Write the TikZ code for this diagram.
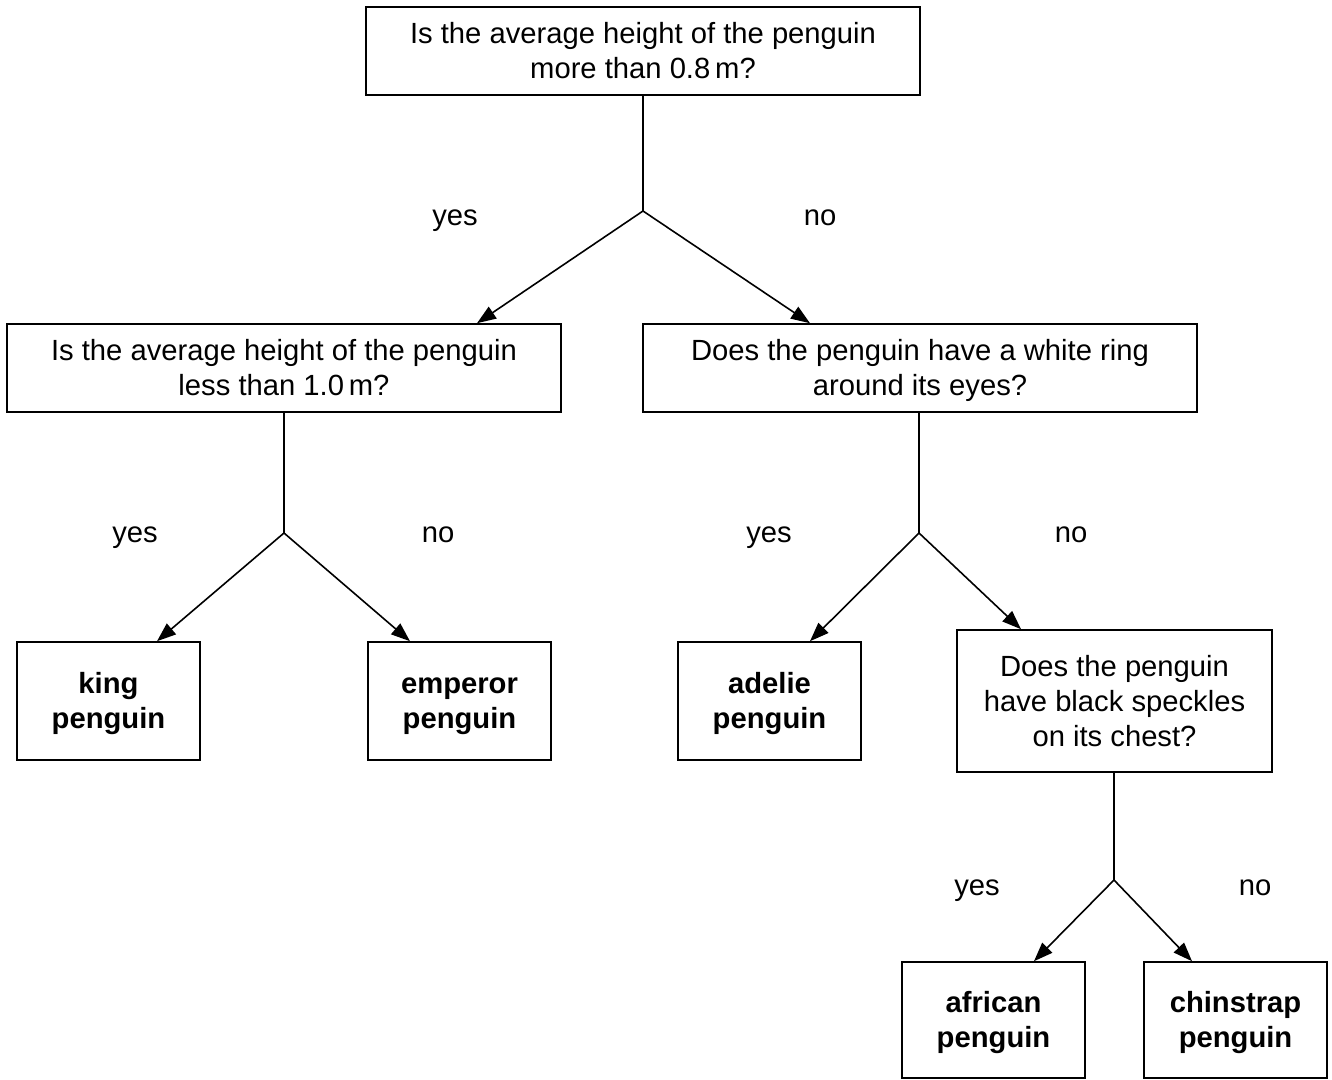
\documentclass[tikz,border=0pt]{standalone}
\usepackage{fontspec}
\setmainfont{Liberation Sans}
\usetikzlibrary{arrows.meta}
\newcommand\lnstrut{\rule[-7.5pt]{0pt}{35pt}}
\begin{document}
\begin{tikzpicture}[x=1pt,y=-1pt,
  box/.style={draw, line width=1.6pt, inner sep=0pt, align=center,
    font=\fontsize{29.2}{35}\selectfont},
  qbox/.style={box, minimum width=554pt, minimum height=88pt},
  leaf/.style={box, minimum width=183pt, minimum height=118pt,
    font=\fontsize{29.2}{35}\selectfont\bfseries},
  conn/.style={line width=1.6pt},
  arr/.style={line width=1.6pt, -{Triangle[length=19pt,width=14pt]}},
  lbl/.style={font=\fontsize{29.2}{35}\selectfont, inner sep=0pt, anchor=base}]
\useasboundingbox (0,0) rectangle (1332,1079);
% boxes
\node[qbox] (top) at (643,51) {\lnstrut Is the average height of the penguin\\\lnstrut more than 0.8\,m?};
\node[qbox] (ql) at (284,368) {\lnstrut Is the average height of the penguin\\\lnstrut less than 1.0\,m?};
\node[qbox] (qr) at (920,368) {\lnstrut Does the penguin have a white ring\\\lnstrut around its eyes?};
\node[leaf] (king) at (108.5,701) {\lnstrut king\\\lnstrut penguin};
\node[leaf] (emperor) at (459.5,701) {\lnstrut emperor\\\lnstrut penguin};
\node[leaf] (adelie) at (769.5,701) {\lnstrut adelie\\\lnstrut penguin};
\node[box, minimum width=315pt, minimum height=142pt] (speck) at (1114.5,701) {\lnstrut Does the penguin\\\lnstrut have black speckles\\\lnstrut on its chest?};
\node[leaf, minimum height=116pt] (african) at (993.5,1020) {\lnstrut african\\\lnstrut penguin};
\node[leaf, minimum height=116pt] (chin) at (1235.5,1020) {\lnstrut chinstrap\\\lnstrut penguin};
% junctions and arrow tips
\coordinate (j0) at (643,211);
\coordinate (j1) at (284,533);
\coordinate (j2) at (919,533);
\coordinate (j3) at (1114,880);
\coordinate (t0a) at (477,324);
\coordinate (t0b) at (810,324);
\coordinate (t1a) at (157,642);
\coordinate (t1b) at (410,642);
\coordinate (t2a) at (810,642);
\coordinate (t2b) at (1021,630);
\coordinate (t3a) at (1034,962);
\coordinate (t3b) at (1192,962);
% connectors
\draw[conn] (top.south -| j0) -- (j0);
\draw[arr] (j0) -- (ql.north -| t0a);
\draw[arr] (j0) -- (qr.north -| t0b);
\draw[conn] (ql.south -| j1) -- (j1);
\draw[arr] (j1) -- (king.north -| t1a);
\draw[arr] (j1) -- (emperor.north -| t1b);
\draw[conn] (qr.south -| j2) -- (j2);
\draw[arr] (j2) -- (adelie.north -| t2a);
\draw[arr] (j2) -- (speck.north -| t2b);
\draw[conn] (speck.south -| j3) -- (j3);
\draw[arr] (j3) -- (african.north -| t3a);
\draw[arr] (j3) -- (chin.north -| t3b);
% labels
\node[lbl] (y0) at (455,225) {yes};
\node[lbl] (n0) at (820,225) {no};
\node[lbl] (y1) at (135,542) {yes};
\node[lbl] (n1) at (438,542) {no};
\node[lbl] (y2) at (769,542) {yes};
\node[lbl] (n2) at (1071,542) {no};
\node[lbl] (y3) at (977,895) {yes};
\node[lbl] (n3) at (1255,895) {no};
\end{tikzpicture}
\end{document}
